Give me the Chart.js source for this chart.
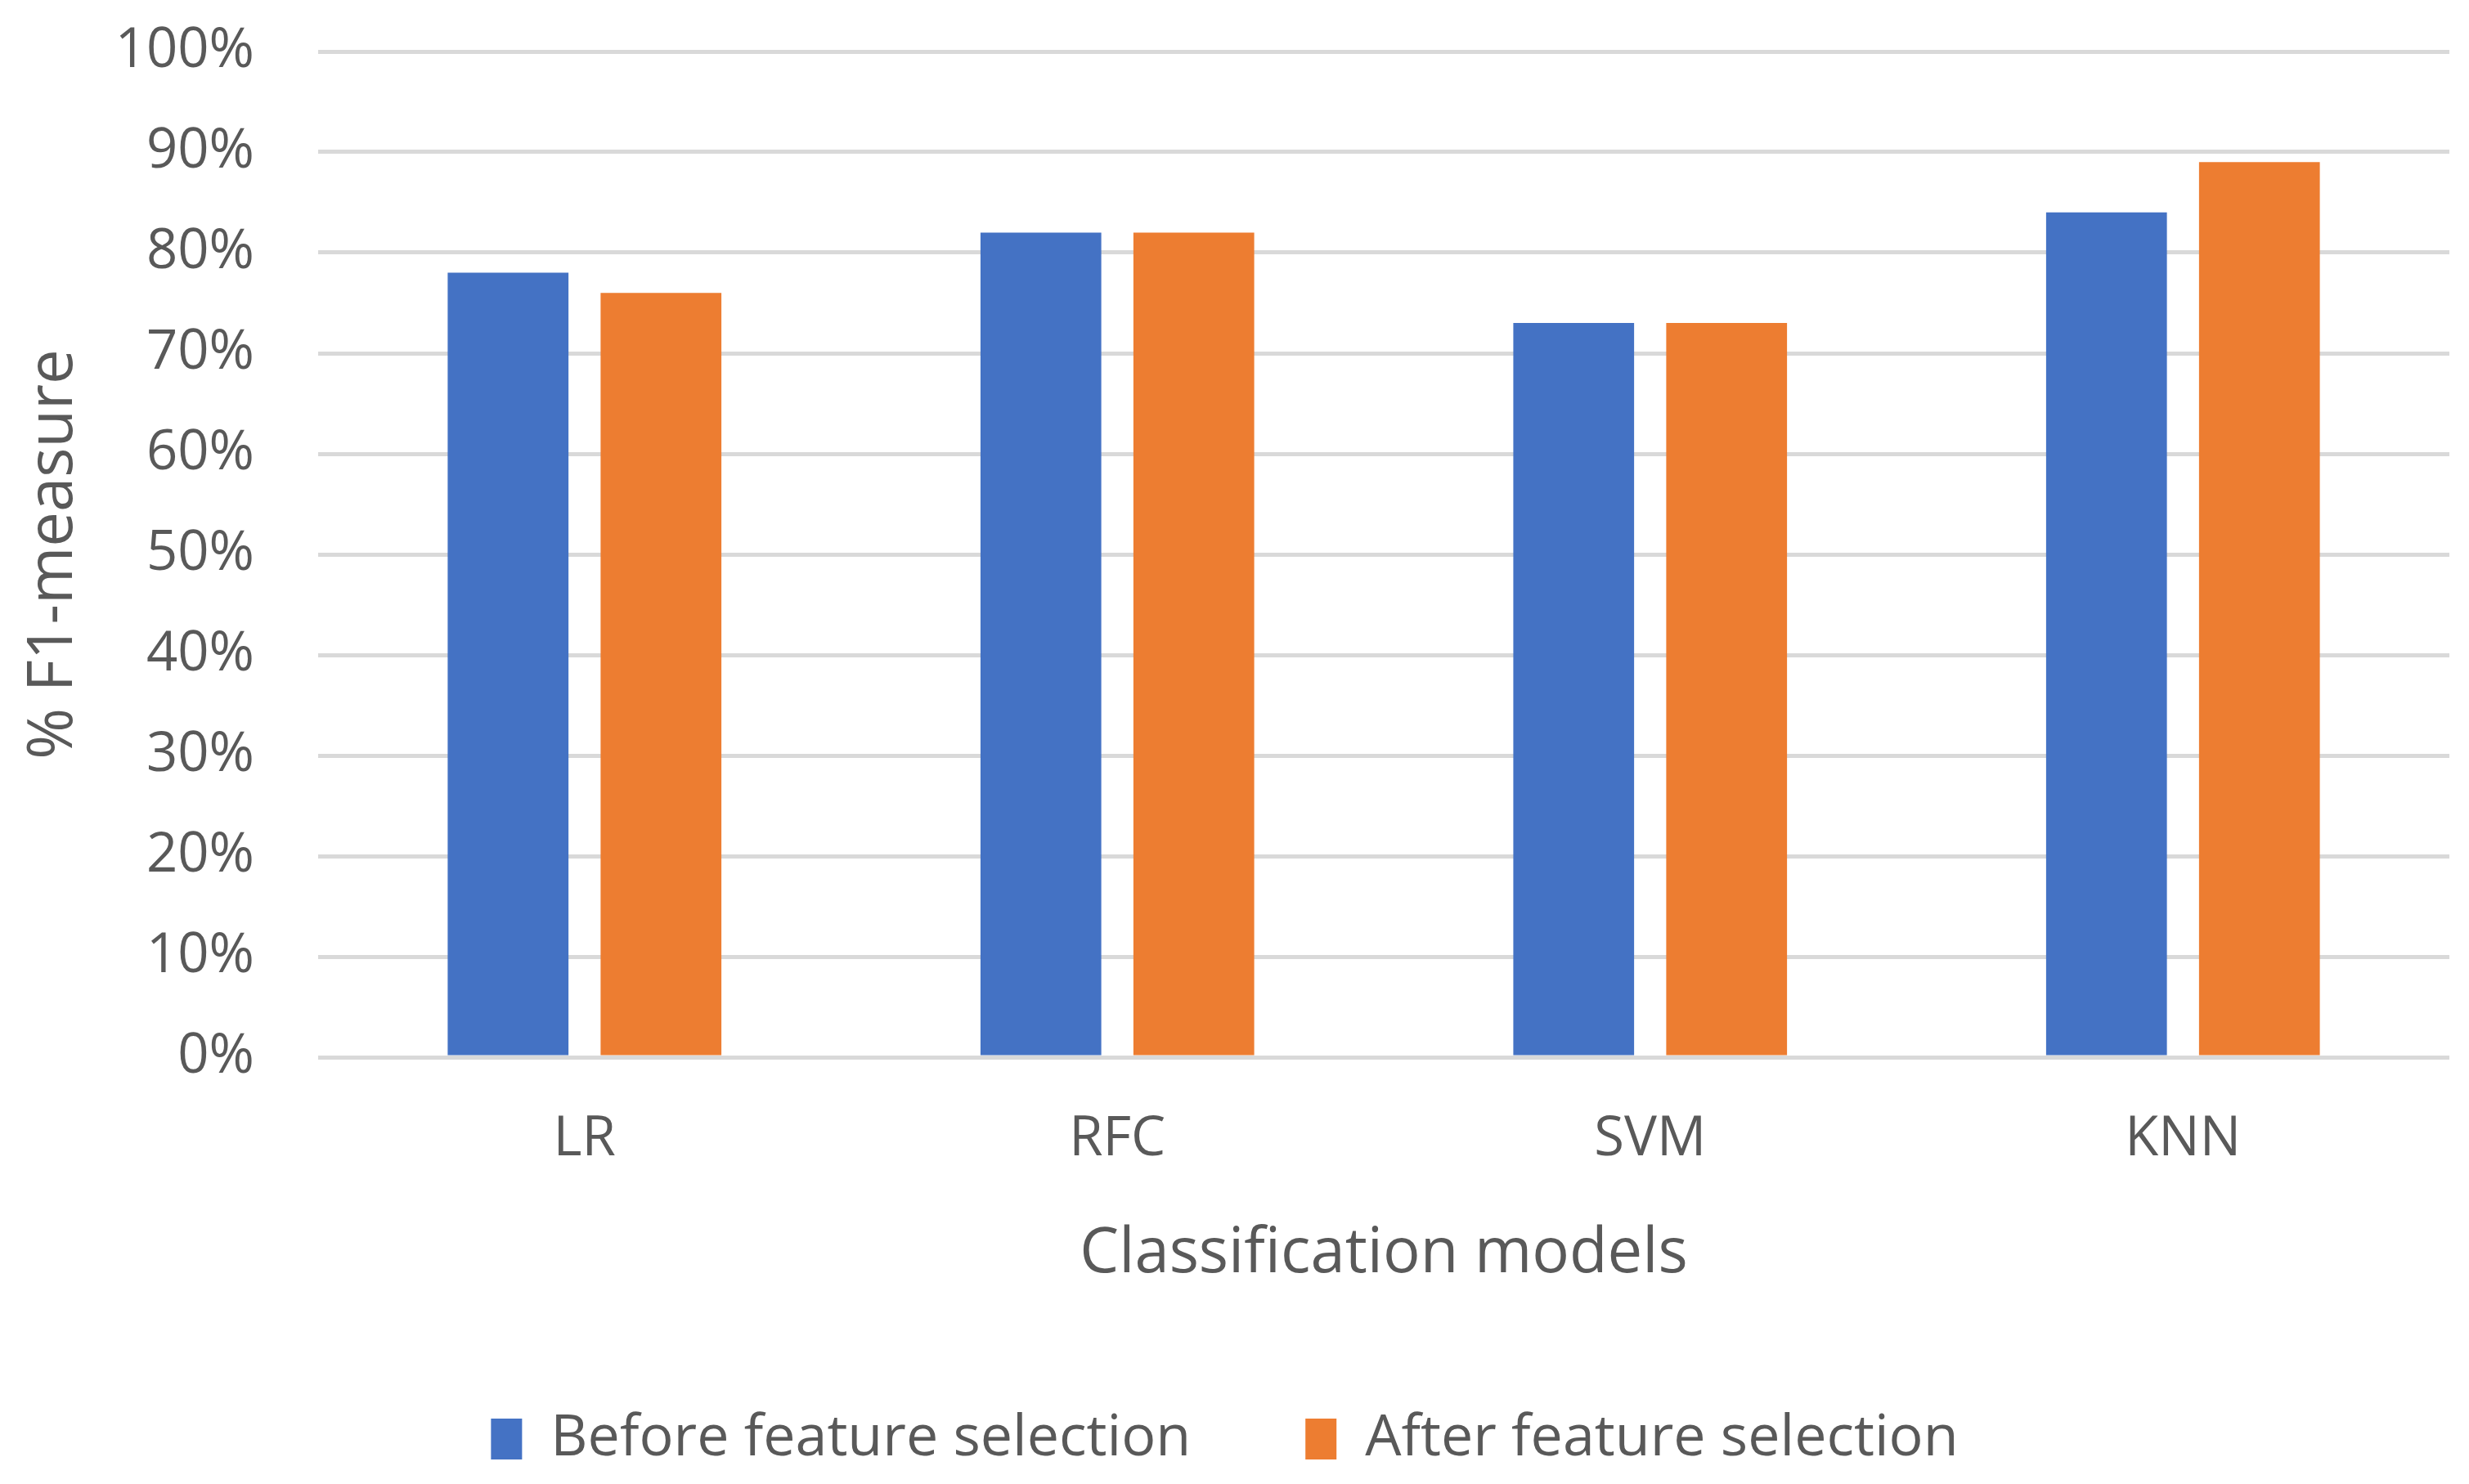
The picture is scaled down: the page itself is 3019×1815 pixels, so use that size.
<!DOCTYPE html>
<html>
<head>
<meta charset="utf-8">
<script src="https://cdn.jsdelivr.net/npm/chart.js@4.4.1/dist/chart.umd.min.js"></script>
<style>
  html, body { margin: 0; padding: 0; background: #ffffff; }
  #wrap { width: 3019px; height: 1815px; }
</style>
</head>
<body>
<div id="wrap"><canvas id="c" width="3019" height="1815"></canvas></div>
<script>
// ---- data ----
const categories = ["LR", "RFC", "SVM", "KNN"];
const beforeSelection = [78, 82, 73, 84];
const afterSelection = [76, 82, 73, 89];
const seriesNames = ["Before feature selection", "After feature selection"];
const yTicks = [0, 10, 20, 30, 40, 50, 60, 70, 80, 90, 100];
const yTitle = "% F1-measure";
const xTitle = "Classification models";

const FONT = "'Open Sans', 'Noto Sans', sans-serif";
const TEXT = "#595959";

const ctx = document.getElementById("c").getContext("2d");
new Chart(ctx, {
  type: "bar",
  data: {
    labels: categories,
    datasets: [
      { label: seriesNames[0], data: beforeSelection, backgroundColor: "#4472C4", borderWidth: 0 },
      { label: seriesNames[1], data: afterSelection, backgroundColor: "#ED7D31", borderWidth: 0 }
    ]
  },
  options: {
    responsive: false,
    devicePixelRatio: 1,
    animation: false,
    categoryPercentage: 0.574,
    barPercentage: 0.79,
    layout: { padding: { left: 0, right: 24, top: 63, bottom: 10 } },
    plugins: {
      tooltip: { enabled: false },
      legend: {
        position: "bottom",
        labels: {
          font: { family: FONT, size: 70 },
          color: TEXT,
          boxWidth: 38,
          boxHeight: 50,
          padding: 140
        }
      }
    },
    scales: {
      x: {
        grid: { display: false, drawTicks: false },
        border: { display: false },
        ticks: { font: { family: FONT, size: 67 }, color: TEXT, padding: 61 },
        title: { display: true, text: xTitle, font: { family: FONT, size: 76 }, color: TEXT, padding: { top: 0, bottom: 5 } },
        afterFit: (s) => { s.height = 292; }
      },
      y: {
        min: 0,
        max: 100,
        afterBuildTicks: (s) => { s.ticks = yTicks.map(v => ({ value: v })); },
        grid: { color: "#d9d9d9", lineWidth: 5, drawTicks: true, tickLength: 78, tickColor: "rgba(0,0,0,0)" },
        border: { display: false },
        ticks: { font: { family: FONT, size: 67 }, color: TEXT, padding: 0, callback: (v) => v + "%" },
        title: { display: true, text: yTitle, font: { family: FONT, size: 76 }, color: TEXT, padding: { top: 21, bottom: 0 } },
        afterFit: (s) => { s.width = 389; }
      }
    }
  }
});
</script>
</body>
</html>
